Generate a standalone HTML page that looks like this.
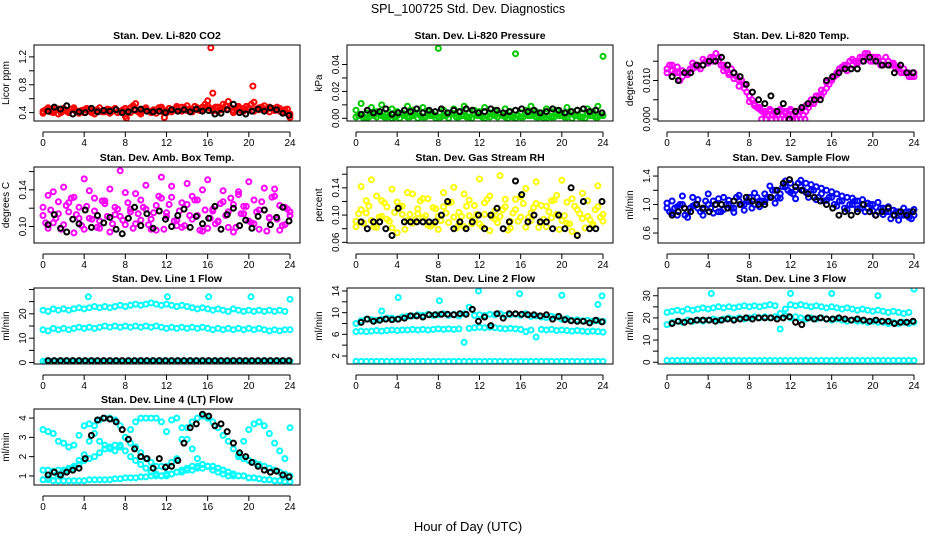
<!DOCTYPE html>
<html><head><meta charset="utf-8"><style>
html,body{margin:0;padding:0;background:#fff;}
svg{display:block;font-family:"Liberation Sans",sans-serif;}
</style></head><body>
<svg id="c" width="936" height="540" viewBox="0 0 936 540">
<text x="468" y="13" text-anchor="middle" font-size="12.5">SPL_100725  Std. Dev. Diagnostics</text>
<text x="468" y="531" text-anchor="middle" font-size="13">Hour of Day (UTC)</text>
</svg>
<script>
const cx=[0,0.5,1,1.5,2,2.5,3,3.5,4,4.5,5,5.5,6,6.5,7,7.5,8,8.5,9,9.5,10,10.5,11,11.5,12,12.5,13,13.5,14,14.5,15,15.5,16,16.5,17,17.5,18,18.5,19,19.5,20,20.5,21,21.5,22,22.5,23,23.5,24];
const cx2=[0.25,0.75,1.25,1.75,2.25,2.75,3.25,3.75,4.25,4.75,5.25,5.75,6.25,6.75,7.25,7.75,8.25,8.75,9.25,9.75,10.25,10.75,11.25,11.75,12.25,12.75,13.25,13.75,14.25,14.75,15.25,15.75,16.25,16.75,17.25,17.75,18.25,18.75,19.25,19.75,20.25,20.75,21.25,21.75,22.25,22.75,23.25,23.75];
const bx=[0.5,1.1,1.7,2.3,2.9,3.5,4.1,4.7,5.3,5.9,6.5,7.1,7.7,8.3,8.9,9.5,10.1,10.7,11.3,11.9,12.5,13.1,13.7,14.3,14.9,15.5,16.1,16.7,17.3,17.9,18.5,19.1,19.7,20.3,20.9,21.5,22.1,22.7,23.3,23.9];
const xTicks=[0,4,8,12,16,20,24];

const co2Red=[0.42,0.44,0.40,0.45,0.43,0.41,0.44,0.42,0.40,0.45,0.43,0.42,0.41,0.44,0.46,0.42,0.35,0.47,0.43,0.41,0.44,0.42,0.43,0.45,0.40,0.44,0.46,0.48,0.43,0.45,0.47,0.44,0.50,0.42,0.48,0.52,0.45,0.43,0.49,0.46,0.44,0.55,0.47,0.45,0.48,0.43,0.46,0.44,0.33];
const co2Red2=[0.44,0.41,0.46,0.40,0.42,0.45,0.41,0.43,0.46,0.40,0.44,0.41,0.45,0.42,0.40,0.44,0.43,0.50,0.41,0.45,0.42,0.44,0.47,0.40,0.46,0.45,0.43,0.47,0.45,0.49,0.43,0.52,0.46,0.48,0.44,0.50,0.47,0.45,0.43,0.49,0.52,0.45,0.48,0.44,0.46,0.48,0.43,0.45];
const co2Red3=[0.39,0.47,0.43,0.38,0.46,0.40,0.47,0.39,0.44,0.42,0.38,0.47,0.43,0.39,0.45,0.41,0.46,0.40,0.44,0.38,0.47,0.40,0.39,0.48,0.43,0.41,0.49,0.42,0.50,0.41,0.44,0.48,0.57,0.45,0.42,0.46,0.56,0.40,0.46,0.42,0.47,0.42,0.44,0.50,0.41,0.45,0.42,0.40,0.38];
const co2OutX=[16.3,16.5,20.4,8.1,11.8,9.0];
const co2OutY=[1.33,0.68,0.78,0.32,0.33,0.53];
const co2Blk=[0.42,0.48,0.45,0.50,0.38,0.41,0.40,0.46,0.41,0.43,0.42,0.44,0.40,0.41,0.44,0.45,0.42,0.41,0.42,0.40,0.44,0.42,0.44,0.41,0.45,0.42,0.43,0.38,0.39,0.44,0.52,0.40,0.38,0.42,0.45,0.42,0.47,0.44,0.39,0.36];

const prG1=[0.001,0.002,0.000,0.003,0.001,0.002,0.001,0.000,0.002,0.003,0.001,0.002,0.000,0.001,0.003,0.002,0.001,0.002,0.000,0.003,0.001,0.002,0.001,0.003,0.002,0.000,0.001,0.002,0.003,0.001,0.002,0.000,0.001,0.003,0.002,0.001,0.002,0.000,0.001,0.003,0.002,0.001,0.000,0.002,0.001,0.003,0.002,0.001,0.002];
const prG2=[0.006,0.011,0.004,0.008,0.005,0.010,0.003,0.007,0.005,0.004,0.009,0.006,0.004,0.008,0.005,0.003,0.052,0.006,0.004,0.007,0.005,0.009,0.004,0.006,0.005,0.008,0.004,0.006,0.003,0.007,0.005,0.048,0.004,0.006,0.009,0.005,0.004,0.007,0.005,0.006,0.004,0.008,0.005,0.006,0.004,0.007,0.005,0.009,0.046];
const prG3=[0.002,0.000,0.001,0.002,0.003,0.001,0.002,0.001,0.000,0.002,0.001,0.003,0.002,0.001,0.002,0.000,0.001,0.002,0.003,0.001,0.002,0.001,0.000,0.002,0.001,0.002,0.003,0.001,0.002,0.000,0.001,0.002,0.001,0.002,0.003,0.001,0.000,0.002,0.001,0.002,0.001,0.003,0.002,0.001,0.000,0.002,0.001,0.002];
const prBlk=[0.003,0.006,0.004,0.005,0.007,0.003,0.004,0.006,0.005,0.007,0.004,0.006,0.005,0.007,0.004,0.006,0.005,0.007,0.006,0.004,0.005,0.007,0.006,0.004,0.005,0.006,0.007,0.005,0.006,0.004,0.005,0.007,0.006,0.004,0.005,0.006,0.007,0.005,0.006,0.004];

const tpMag=[0.013,0.014,0.012,0.011,0.012,0.013,0.014,0.014,0.015,0.016,0.015,0.014,0.012,0.012,0.010,0.009,0.006,0.004,0.003,0.002,0.002,0.002,0.002,0.002,0.002,0.002,0.002,0.002,0.004,0.005,0.006,0.008,0.010,0.012,0.013,0.014,0.014,0.015,0.016,0.016,0.016,0.015,0.015,0.015,0.014,0.013,0.013,0.012,0.011];
const tpMag2=[0.014,0.012,0.010,0.012,0.013,0.014,0.013,0.015,0.016,0.017,0.014,0.013,0.013,0.011,0.010,0.007,0.005,0.003,0.002,0.001,0.001,0.001,0.001,0.001,0.001,0.001,0.001,0.003,0.004,0.006,0.007,0.009,0.011,0.013,0.014,0.015,0.015,0.016,0.017,0.015,0.016,0.014,0.016,0.014,0.013,0.012,0.012,0.011];
const tpMag3=[0.012,0.0125,0.0135,0.0125,0.0115,0.0145,0.0135,0.0155,0.0145,0.0150,0.0160,0.0125,0.0115,0.0105,0.0085,0.0080,0.0045,0.0035,0.0025,0.0015,0.0025,0.0015,0.0025,0.0015,0.0025,0.0015,0.0025,0.0035,0.0050,0.0060,0.0075,0.0095,0.0105,0.0115,0.0135,0.0125,0.0155,0.0145,0.0150,0.0170,0.0150,0.0160,0.0140,0.0150,0.0145,0.0135,0.0120,0.0110,0.0120];
const tpZeroX=[9.2,9.6,10.2,10.6,11.0,11.4,11.8,12.2,12.6,13.0,13.4];
const tpZeroY=[0,0,0,0,0,0,0,0,0,0,0];
const tpBlk=[0.011,0.010,0.012,0.012,0.014,0.014,0.015,0.015,0.016,0.014,0.012,0.011,0.009,0.007,0.005,0.004,0.006,0.002,0.004,0.000,0.002,0.003,0.004,0.005,0.005,0.010,0.011,0.012,0.013,0.013,0.013,0.015,0.016,0.015,0.014,0.014,0.012,0.014,0.012,0.012];

const abM1=[0.112,0.134,0.104,0.127,0.143,0.116,0.093,0.121,0.152,0.109,0.131,0.098,0.125,0.141,0.113,0.161,0.102,0.119,0.136,0.107,0.145,0.097,0.123,0.154,0.111,0.132,0.101,0.126,0.147,0.108,0.129,0.095,0.151,0.117,0.106,0.139,0.099,0.124,0.135,0.114,0.149,0.103,0.118,0.142,0.109,0.133,0.096,0.121,0.112];
const abM2=[0.104,0.118,0.109,0.097,0.123,0.131,0.113,0.101,0.122,0.108,0.099,0.128,0.111,0.103,0.119,0.107,0.126,0.098,0.114,0.121,0.102,0.115,0.133,0.097,0.124,0.106,0.117,0.101,0.112,0.129,0.096,0.118,0.109,0.103,0.125,0.112,0.131,0.099,0.114,0.122,0.104,0.116,0.127,0.095,0.132,0.108,0.101,0.119];
const abM3=[0.121,0.098,0.138,0.114,0.102,0.126,0.132,0.109,0.097,0.139,0.117,0.106,0.128,0.094,0.121,0.111,0.137,0.116,0.103,0.129,0.119,0.108,0.096,0.131,0.115,0.144,0.107,0.099,0.124,0.133,0.112,0.140,0.098,0.119,0.105,0.127,0.116,0.094,0.138,0.122,0.106,0.129,0.097,0.118,0.110,0.141,0.123,0.102,0.116];
const abBlk=[0.102,0.113,0.098,0.094,0.108,0.103,0.118,0.099,0.112,0.104,0.110,0.097,0.092,0.109,0.121,0.101,0.114,0.098,0.117,0.108,0.100,0.112,0.119,0.099,0.111,0.103,0.109,0.122,0.097,0.113,0.120,0.101,0.107,0.098,0.111,0.118,0.102,0.110,0.121,0.106];

const rhY1=[0.091,0.142,0.103,0.152,0.082,0.121,0.094,0.138,0.074,0.113,0.092,0.131,0.102,0.124,0.085,0.111,0.098,0.133,0.089,0.141,0.104,0.083,0.122,0.093,0.153,0.101,0.128,0.094,0.158,0.112,0.081,0.123,0.097,0.139,0.092,0.149,0.114,0.083,0.121,0.101,0.151,0.088,0.124,0.071,0.132,0.098,0.084,0.143,0.091];
const rhY2=[0.102,0.088,0.113,0.083,0.097,0.118,0.091,0.104,0.112,0.079,0.101,0.093,0.121,0.099,0.084,0.109,0.092,0.103,0.119,0.081,0.098,0.113,0.087,0.101,0.083,0.123,0.097,0.089,0.108,0.078,0.103,0.091,0.117,0.096,0.111,0.082,0.094,0.105,0.122,0.079,0.099,0.087,0.113,0.102,0.081,0.093,0.108,0.097];
const rhY3=[0.083,0.108,0.121,0.092,0.128,0.098,0.112,0.081,0.119,0.101,0.133,0.088,0.109,0.096,0.124,0.087,0.079,0.112,0.118,0.097,0.086,0.131,0.099,0.114,0.087,0.118,0.077,0.106,0.098,0.123,0.091,0.108,0.127,0.082,0.103,0.117,0.089,0.113,0.096,0.129,0.092,0.119,0.076,0.108,0.095,0.121,0.087,0.112,0.101];
const rhBlk=[0.09,0.08,0.09,0.09,0.08,0.07,0.11,0.09,0.09,0.09,0.09,0.09,0.09,0.10,0.12,0.08,0.09,0.08,0.09,0.10,0.08,0.10,0.11,0.08,0.09,0.15,0.13,0.09,0.10,0.09,0.09,0.08,0.10,0.08,0.14,0.07,0.12,0.08,0.08,0.12];

const sfB1=[0.95,1.05,0.85,1.0,0.9,1.1,0.95,0.85,1.0,1.05,0.9,1.1,1.0,0.95,1.05,1.0,1.1,1.0,1.05,1.15,1.1,1.2,1.15,1.25,1.3,1.2,1.25,1.3,1.2,1.25,1.15,1.2,1.1,1.15,1.05,1.1,1.0,1.05,1.0,0.95,1.0,0.9,0.95,0.9,0.85,0.9,0.85,0.9,0.85];
const sfB2=[0.9,0.95,1.0,0.85,0.95,1.0,0.9,1.05,0.95,1.0,0.9,1.0,0.95,1.1,1.0,1.05,0.95,1.1,1.05,1.1,1.2,1.1,1.25,1.2,1.15,1.3,1.2,1.1,1.2,1.1,1.05,1.1,1.0,1.05,0.95,1.0,1.05,0.95,0.9,1.0,0.85,0.95,0.9,0.8,0.9,0.85,0.9,0.8];
const sfB3=[1.02,0.88,0.97,1.12,0.82,0.98,1.07,0.93,1.15,0.88,1.08,0.93,1.06,0.89,1.13,0.92,1.04,1.16,0.97,1.04,1.26,1.02,1.09,1.33,1.17,1.08,1.34,1.17,1.28,1.07,1.23,1.06,1.18,0.98,1.12,0.93,1.09,0.94,1.07,1.02,0.91,1.03,0.86,0.97,0.92,0.78,0.95,0.82,0.93];
const sfBlk=[0.85,0.9,0.95,0.9,1.0,0.95,0.9,1.0,1.0,0.95,1.05,1.0,1.1,1.05,1.0,1.0,1.1,1.2,1.3,1.35,1.25,1.2,1.15,1.1,1.05,1.0,0.95,0.85,0.9,0.85,0.9,1.0,0.9,0.85,0.9,0.95,0.85,0.9,0.85,0.9];

const l1C1=[21.5,21,22,21.5,22,21.5,22,22.5,22,22.5,23,22.5,23,22.5,23,23.5,23,23.5,24,23.5,24,24.5,24,23.5,24,23.5,23,23.5,23,22.5,22,22.5,22,21.5,22,21.5,21,22,21.5,21,21.5,21,21.5,21,21.5,21,21.5,21,26];
const l1C2=[13.5,13,14,13.5,14,13.5,14,14.5,14,14.5,14,14.5,15,14.5,15,14.5,15,14.5,15,14.5,15,14.5,15,14.5,14,14.5,14,14.5,14,14.5,14,14.5,14,13.5,14,13.5,14,13.5,14,13.5,14,13.5,14,13.5,13,13.5,13,13.5,13.5];
const l1C3=[0.5,0.5,0.5,0.5,0.5,0.5,0.5,0.5,0.5,0.5,0.5,0.5,0.5,0.5,0.5,0.5,0.5,0.5,0.5,0.5,0.5,0.5,0.5,0.5,0.5,0.5,0.5,0.5,0.5,0.5,0.5,0.5,0.5,0.5,0.5,0.5,0.5,0.5,0.5,0.5,0.5,0.5,0.5,0.5,0.5,0.5,0.5,0.5,0.5];
const l1Blk=[0.8,0.8,0.8,0.8,0.8,0.8,0.8,0.8,0.8,0.8,0.8,0.8,0.8,0.8,0.8,0.8,0.8,0.8,0.8,0.8,0.8,0.8,0.8,0.8,0.8,0.8,0.8,0.8,0.8,0.8,0.8,0.8,0.8,0.8,0.8,0.8,0.8,0.8,0.8,0.8];
const l1OutX=[4.4,12.1,16.1,20.2];
const l1OutY=[27,27,27,27];

const l2C1=[8,8.5,8.8,8.7,8.6,8.8,9,9,8.8,9.2,9.3,9.4,9.6,9.5,9.7,9.5,9.6,9.8,9.5,9.7,9.4,9.8,11,9.5,9.6,9.5,9.7,9.6,9.8,9.5,9.6,9.7,9.5,9.8,9.3,9.4,9.2,9.1,9.3,9.2,8.8,8.9,8.6,8.7,8.5,8.6,8.4,8.5,8.4];
const l2C2=[6.5,6.6,6.5,6.6,6.7,6.6,6.7,6.8,6.7,6.8,6.8,6.9,6.8,6.9,6.8,6.9,7.0,6.9,7.0,6.9,7.0,4.5,7.1,7.2,7.3,7.2,7.3,7.2,7.1,7.0,7.1,7.0,6.9,6.5,6.8,5.5,6.9,6.8,6.9,6.7,6.8,6.7,6.6,6.7,6.6,6.5,6.6,6.5,6.4];
const l2C3=[1,1,1,1,1,1,1,1,1,1,1,1,1,1,1,1,1,1,1,1,1,1,1,1,1,1,1,1,1,1,1,1,1,1,1,1,1,1,1,1,1,1,1,1,1,1,1,1,1];
const l2OutX=[4.1,8.1,11.9,15.9,20.0,23.5,23.9,2.5];
const l2OutY=[12.8,12.2,14,13.5,13.2,11.5,13.1,10.3];
const l2Blk=[8.2,8.8,8.4,8.6,8.8,8.7,8.8,9.0,9.4,9.4,9.2,9.6,9.6,9.7,9.7,9.6,9.8,9.7,10.6,8.4,9.2,7.6,9.8,9.0,9.8,9.8,9.7,9.6,9.6,9.4,9.6,8.8,9.3,8.7,8.5,8.4,8.4,8.1,8.6,8.3];

const l3C1=[22.5,23,23.5,23,24,23.5,24,24.5,24,24.5,25,24.5,25,24.5,25,25.5,25,25.5,25,25.5,26,25.5,22,24,26,25.5,26,25.5,25,25.5,25,24.5,25,24.5,24,24.5,24,23.5,24,23.5,23,23.5,23,22.5,23,22.5,22,22.5,33];
const l3C2=[17,18,18.5,18,19,18.5,19,18.5,19,19.5,19,19.5,20,19.5,20,19.5,20,20.5,20,20.5,20,20.5,15,21,20,20.5,20,19.5,20,19.5,20,19.5,19,19.5,19,18.5,19,18.5,18.5,18,18.5,18,18,17.5,18,17.5,18,17.5,18];
const l3C3=[0.8,0.8,0.8,0.8,0.8,0.8,0.8,0.8,0.8,0.8,0.8,0.8,0.8,0.8,0.8,0.8,0.8,0.8,0.8,0.8,0.8,0.8,0.8,0.8,0.8,0.8,0.8,0.8,0.8,0.8,0.8,0.8,0.8,0.8,0.8,0.8,0.8,0.8,0.8,0.8,0.8,0.8,0.8,0.8,0.8,0.8,0.8,0.8,0.8];
const l3OutX=[4.3,12.0,16.0,20.5];
const l3OutY=[31,31,31,30];
const l3Blk=[17.5,18.5,18,18.5,19,19,19,18.5,19,19.5,19,19.5,20,19.5,20,20,20,19.5,20,20.5,18,17,20,19.5,20,19.5,19.5,20,19.5,19,19.5,19,18.5,19,18.5,18.5,17.5,18,18,18.5];

const l4C1=[1.3,1.3,1.25,1.3,1.3,1.4,1.5,1.8,2.1,2.8,3.6,3.9,4.0,4.0,3.9,3.6,3.0,2.7,2.5,2.2,1.9,1.7,1.5,1.5,1.5,1.7,1.9,2.9,3.5,3.8,4.0,4.1,4.0,3.8,3.5,3.1,2.8,2.4,2.1,1.9,1.8,1.7,1.6,1.5,1.4,1.3,1.2,1.1,1.0];
const l4C2=[3.4,3.3,3.2,2.8,2.7,2.5,2.6,3.1,3.6,3.7,3.2,2.8,2.6,2.4,2.3,2.6,3.0,3.4,3.8,4.0,4.0,4.0,4.0,3.8,3.3,3.9,4.0,3.5,2.9,2.4,1.9,1.6,1.5,1.3,1.2,1.1,1.0,1.0,2.0,2.8,3.4,3.7,3.8,3.6,3.2,2.7,2.3,1.9,3.5];
const l4C3=[0.8,0.9,1.0,1.1,1.2,1.3,1.4,1.6,1.8,1.9,2.0,2.2,2.4,2.5,2.6,2.5,2.3,2.0,1.8,1.6,1.4,1.2,1.1,1.0,1.0,1.1,1.2,1.3,1.4,1.5,1.5,1.6,1.5,1.5,1.4,1.3,1.2,1.1,1.0,1.0,0.9,0.9,0.85,0.8,0.8,0.75,0.75,0.7,0.7];
const l4C4=[0.8,0.8,0.75,0.75,0.75,0.75,0.75,0.75,0.75,0.8,0.8,0.8,0.8,0.8,0.85,0.85,0.9,0.9,0.9,0.95,0.95,1.0,1.0,1.0,1.1,1.1,1.2,1.2,1.3,1.3,1.4,1.4,1.5,1.5,1.4,1.3,1.2,1.1,1.0,1.0,0.9,0.9,0.85,0.8,0.8,0.75,0.75,0.7,0.7];
const l4Blk=[1.05,1.2,1.05,1.2,1.3,1.4,1.9,3.1,3.9,4.0,3.95,3.8,3.4,2.9,2.4,2.0,1.9,1.4,1.9,1.45,1.5,1.8,2.7,3.5,3.7,4.2,4.1,3.6,3.7,3.3,2.7,2.2,2.0,1.7,1.5,1.3,1.2,1.25,1.05,0.95];

const RED='#ff0000',GRN='#00cc00',MAG='#ff00ff',YEL='#ffff00',BLU='#0000ff',CYN='#00ffff',BLK='#000000';
const panels=[
 {name:'co2',title:'Stan. Dev. Li-820 CO2',yl:'Licor ppm',col:0,row:0,dom:[0.28,1.37],ticks:[0.4,0.6,0.8,1.0,1.2],labels:[0.4,0.8,1.2],dec:1,
  series:[[cx,co2Red,RED],[cx2,co2Red2,RED],[cx,co2Red3,RED],[co2OutX,co2OutY,RED],[bx,co2Blk,BLK]]},
 {name:'pressure',title:'Stan. Dev. Li-820 Pressure',yl:'kPa',col:1,row:0,dom:[-0.002,0.0545],ticks:[0,0.01,0.02,0.03,0.04],labels:[0,0.02,0.04],dec:2,
  series:[[cx,prG1,GRN],[cx2,prG3,GRN],[cx,prG2,GRN],[bx,prBlk,BLK]]},
 {name:'temp',title:'Stan. Dev. Li-820 Temp.',yl:'degrees C',col:2,row:0,dom:[-0.0005,0.0192],ticks:[0,0.005,0.01,0.015],labels:[0,0.01],dec:3,
  series:[[cx,tpMag,MAG],[cx2,tpMag2,MAG],[cx,tpMag3,MAG],[tpZeroX,tpZeroY,MAG],[bx,tpBlk,BLK]]},
 {name:'amb-box-temp',title:'Stan. Dev. Amb. Box Temp.',yl:'degrees C',col:0,row:1,dom:[0.082,0.165],ticks:[0.10,0.12,0.14,0.16],labels:[0.10,0.14],dec:2,
  series:[[cx,abM1,MAG],[cx2,abM2,MAG],[cx,abM3,MAG],[bx,abBlk,BLK]]},
 {name:'gas-stream-rh',title:'Stan. Dev. Gas Stream RH',yl:'percent',col:1,row:1,dom:[0.059,0.1706],ticks:[0.06,0.08,0.10,0.12,0.14,0.16],labels:[0.06,0.10,0.14],dec:2,
  series:[[cx,rhY1,YEL],[cx2,rhY2,YEL],[cx,rhY3,YEL],[bx,rhBlk,BLK]]},
 {name:'sample-flow',title:'Stan. Dev. Sample Flow',yl:'ml/min',col:2,row:1,dom:[0.46,1.527],ticks:[0.6,0.8,1.0,1.2,1.4],labels:[0.6,1.0,1.4],dec:1,
  series:[[cx,sfB1,BLU],[cx2,sfB2,BLU],[cx,sfB3,BLU],[bx,sfBlk,BLK]]},
 {name:'line1-flow',title:'Stan. Dev. Line 1 Flow',yl:'ml/min',col:0,row:2,dom:[-0.6,30.6],ticks:[0,5,10,15,20,25,30],labels:[0,10,20],dec:0,
  series:[[cx,l1C1,CYN],[cx,l1C2,CYN],[cx2,l1C3.slice(0,48),CYN],[cx,l1C3,CYN],[l1OutX,l1OutY,CYN],[bx,l1Blk,BLK]]},
 {name:'line2-flow',title:'Stan. Dev. Line 2 Flow',yl:'ml/min',col:1,row:2,dom:[0.52,14.55],ticks:[2,4,6,8,10,12,14],labels:[2,6,10,14],dec:0,
  series:[[cx,l2C1,CYN],[cx,l2C2,CYN],[cx,l2C3,CYN],[l2OutX,l2OutY,CYN],[bx,l2Blk,BLK]]},
 {name:'line3-flow',title:'Stan. Dev. Line 3 Flow',yl:'ml/min',col:2,row:2,dom:[-0.8,33.5],ticks:[0,5,10,15,20,25,30],labels:[0,10,20,30],dec:0,
  series:[[cx,l3C1,CYN],[cx,l3C2,CYN],[cx,l3C3,CYN],[l3OutX,l3OutY,CYN],[bx,l3Blk,BLK]]},
 {name:'line4-flow',title:'Stan. Dev. Line 4 (LT) Flow',yl:'ml/min',col:0,row:3,dom:[0.53,4.47],ticks:[1,2,3,4],labels:[1,2,3,4],dec:0,
  series:[[cx,l4C1,CYN],[cx,l4C2,CYN],[cx,l4C3,CYN],[cx,l4C4,CYN],[bx,l4Blk,BLK]]}
];
const NS='http://www.w3.org/2000/svg';
const svg=document.getElementById('c');
const colL=[34,347,658],rowT=[45,167,288,409],W=266,H=76;
function mk(tag,attrs,parent){const e=document.createElementNS(NS,tag);for(const k in attrs)e.setAttribute(k,attrs[k]);parent.appendChild(e);return e;}
panels.forEach(p=>{
  const L=colL[p.col],T=rowT[p.row];
  const g=mk('g',{},svg);
  
  
  const xs=v=>L+9+(v/24)*247;
  const ys=v=>T+H-(v-p.dom[0])/(p.dom[1]-p.dom[0])*H;
  const t=mk('text',{x:L+W/2,y:T-6,'text-anchor':'middle','font-size':'10.5','font-weight':'bold'},g);
  t.textContent=p.title;
  
  
  const cl='clip-'+p.name;
  const cp=mk('clipPath',{id:cl},g);mk('rect',{x:L,y:T,width:W,height:H},cp);
  const pts=mk('g',{'clip-path':'url(#'+cl+')',fill:'none','stroke-width':'2'},g);
  
  
  p.series.forEach(s=>{
    const X=s[0],Y=s[1],c=s[2];
    for(let i=0;i<Y.length&&i<X.length;i++){
      const m=mk('circle',{cx:xs(X[i]).toFixed(1),cy:ys(Y[i]).toFixed(1),r:2.5,stroke:c},pts);
      
      
    }
  });
  const box=mk('rect',{x:L,y:T,width:W,height:H,fill:'none',stroke:'#000','stroke-width':'1'},g);
  
  
  const ax=mk('g',{stroke:'#000','stroke-width':'1'},g);
  
  
  const ay=T+H+11;
  mk('line',{x1:xs(0),y1:ay,x2:xs(24),y2:ay},ax);
  xTicks.forEach(v=>{
    mk('line',{x1:xs(v),y1:ay,x2:xs(v),y2:ay+5},ax);
    const tx=mk('text',{x:xs(v),y:ay+14,'text-anchor':'middle','font-size':'10',stroke:'none'},ax);
    tx.textContent=v;
  });
  const yax=mk('g',{stroke:'#000','stroke-width':'1'},g);
  
  
  p.ticks.forEach(v=>{mk('line',{x1:L-5,y1:ys(v),x2:L,y2:ys(v)},yax);});
  p.labels.forEach(v=>{
    const yy=ys(v);
    const tx=mk('text',{x:L-8,y:yy,'text-anchor':'middle','font-size':'10',stroke:'none',transform:'rotate(-90 '+(L-8)+' '+yy+')'},yax);
    tx.textContent=v.toFixed(p.dec);
  });
  const yl=mk('text',{x:L-25,y:T+H/2,'text-anchor':'middle','font-size':'10',transform:'rotate(-90 '+(L-25)+' '+(T+H/2)+')'},g);
  yl.textContent=p.yl;
  
  
});
</script>
</body></html>
